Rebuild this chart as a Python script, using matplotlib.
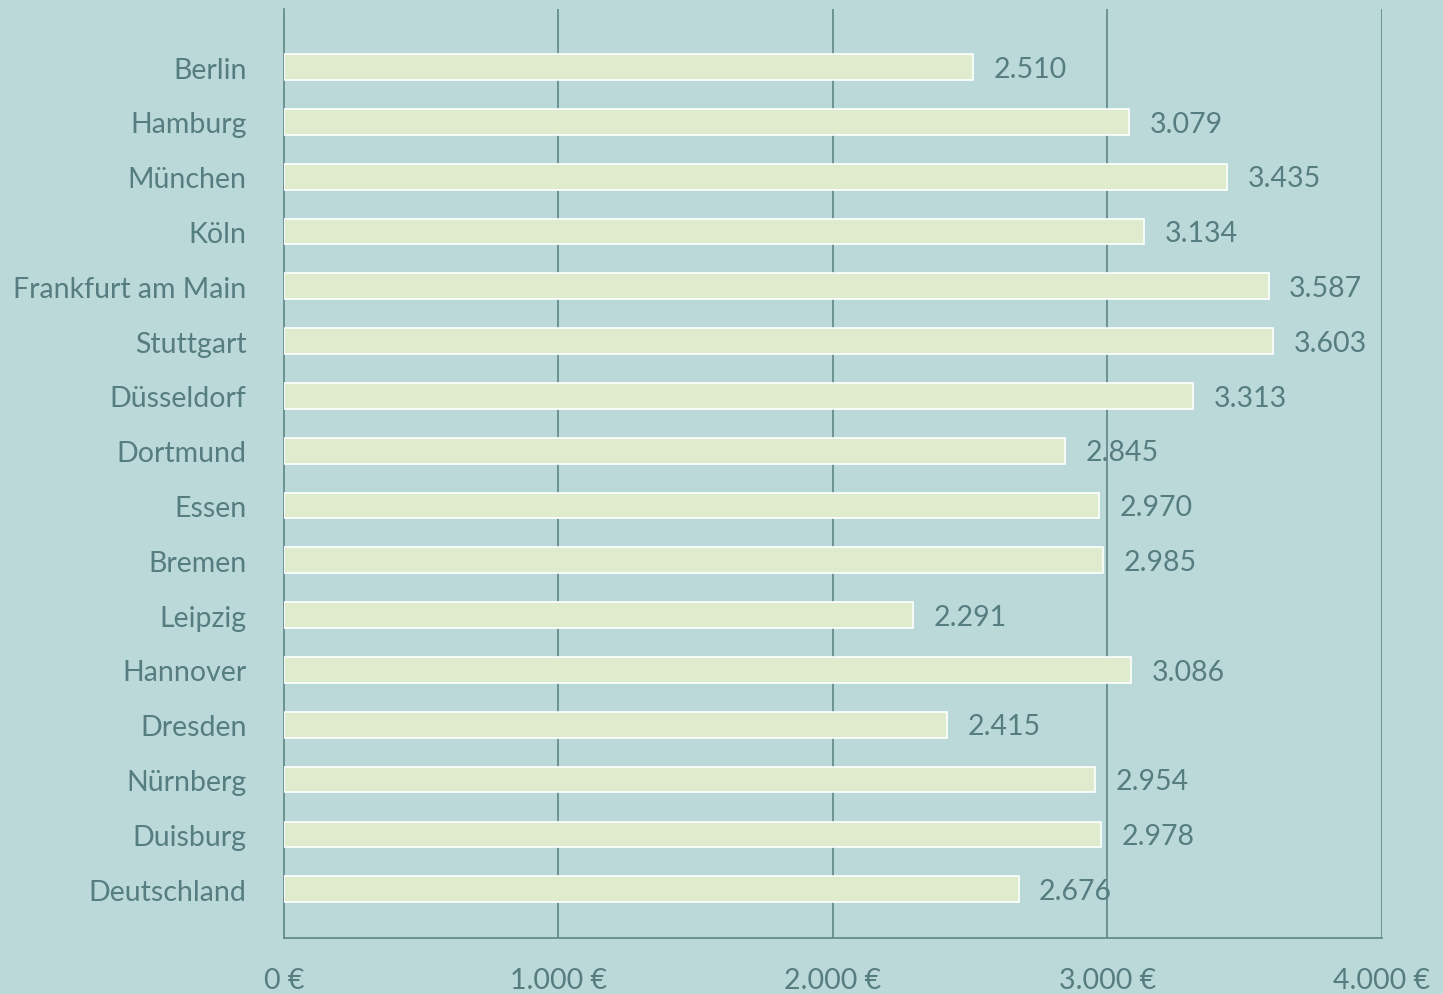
import matplotlib.pyplot as plt

cities = ['Berlin', 'Hamburg', 'München', 'Köln', 'Frankfurt am Main', 'Stuttgart',
          'Düsseldorf', 'Dortmund', 'Essen', 'Bremen', 'Leipzig', 'Hannover',
          'Dresden', 'Nürnberg', 'Duisburg', 'Deutschland']
values = [2510, 3079, 3435, 3134, 3587, 3603, 3313, 2845, 2970, 2985, 2291, 3086,
          2415, 2954, 2978, 2676]
x_ticks = [0, 1000, 2000, 3000, 4000]

bg = '#bbd9d9'
bar_color = '#deebcc'
text_color = '#567d80'
line_color = '#5f8587'

plt.rcParams['font.family'] = ['Lato', 'DejaVu Sans']


def de_format(v):
    return f'{v:,}'.replace(',', '.')


fig = plt.figure(figsize=(14.43, 9.95), dpi=100, facecolor=bg)
ax = fig.add_axes([0.1968, 0.0563, 0.7609, 0.9337], facecolor=bg)

ypos = list(range(len(cities)))
ax.barh(ypos, values, height=0.47, color=bar_color, edgecolor='white', linewidth=1.2, zorder=3)

for y, v in zip(ypos, values):
    ax.text(v + 75, y + 0.03, de_format(v), va='center', ha='left', fontsize=20.5,
            color=text_color, zorder=4)

ax.set_xlim(0, 4000)
ax.set_ylim(15.89, -1.06)
ax.set_yticks(ypos)
ax.set_yticklabels(cities)
ax.set_xticks(x_ticks)
ax.set_xticklabels([f'{de_format(t)} €' for t in x_ticks])
ax.tick_params(axis='both', length=0, labelsize=20.5, labelcolor=text_color)
ax.tick_params(axis='x', pad=21)
ax.tick_params(axis='y', pad=27)
for lbl in ax.get_yticklabels():
    lbl.set_y(lbl.get_position()[1])

for t in x_ticks[1:]:
    ax.axvline(t, color=line_color, linewidth=1.2, zorder=2)

for side in ['top', 'right']:
    ax.spines[side].set_visible(False)
for side in ['left', 'bottom']:
    ax.spines[side].set_color(line_color)
    ax.spines[side].set_linewidth(1.2)

fig.savefig('out.png', dpi=100, facecolor=bg)
